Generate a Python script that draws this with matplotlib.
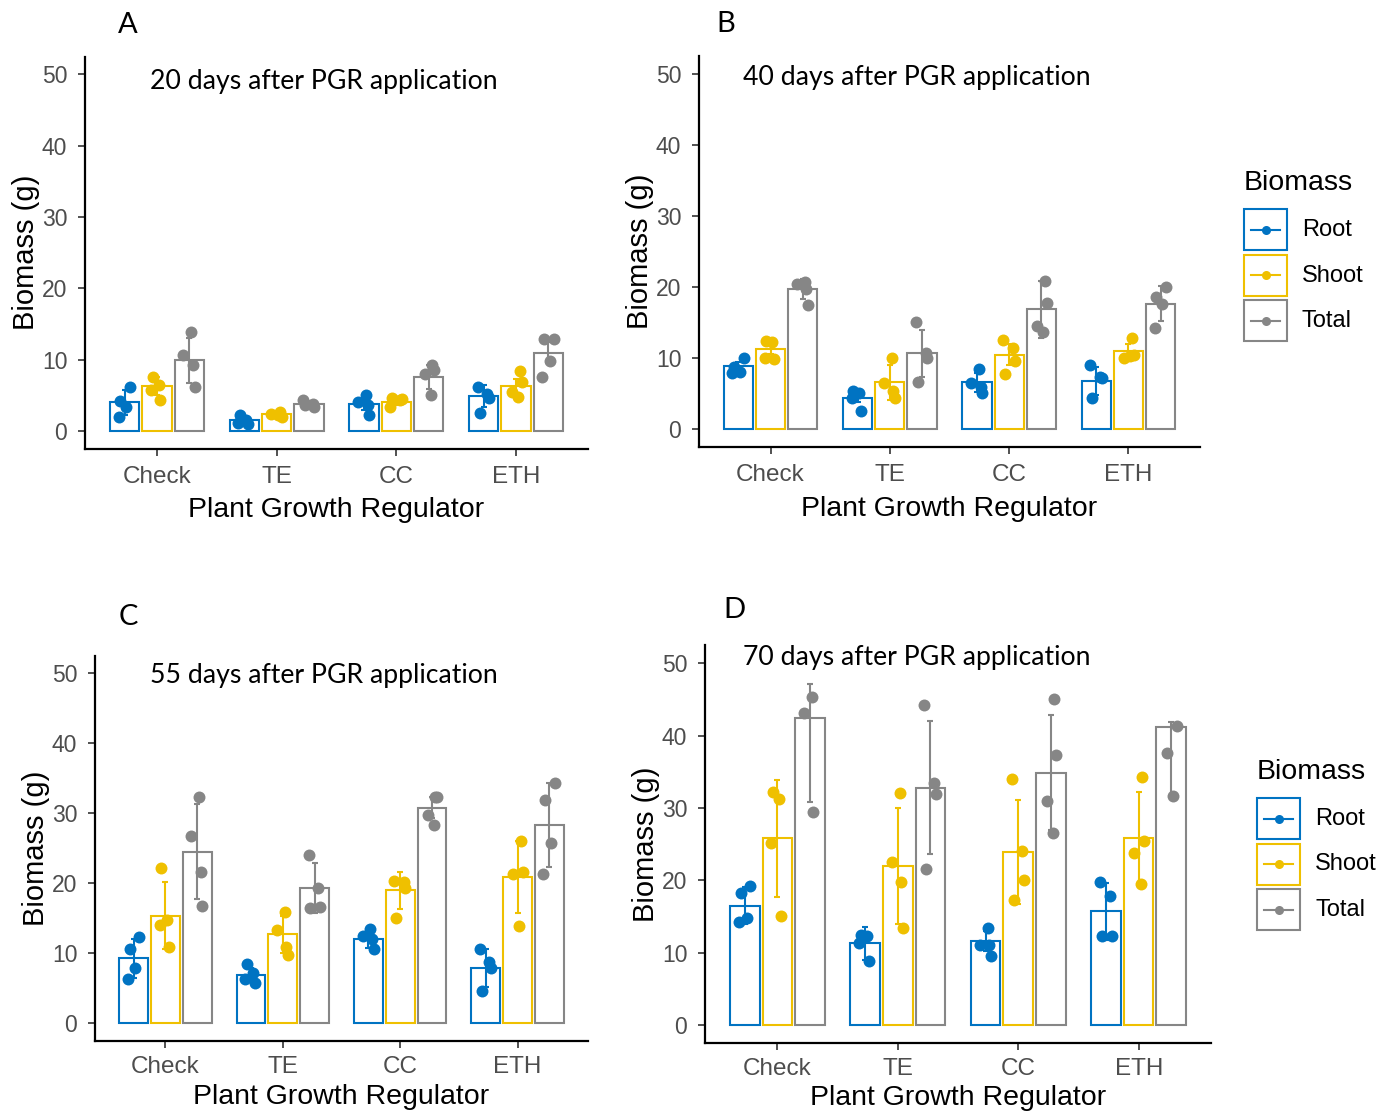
import numpy as np
import matplotlib
matplotlib.use("Agg")
import matplotlib.pyplot as plt
from matplotlib.patches import Rectangle
from matplotlib.lines import Line2D

# ------------------------------------------------------------
# data
# ------------------------------------------------------------
regulators = ['Check', 'TE', 'CC', 'ETH']
parts = ['Root', 'Shoot', 'Total']
colors = ['#0073C2', '#EFC000', '#868686']
panel_letters = ['A', 'B', 'C', 'D']
panel_titles = ['20 days after PGR application', '40 days after PGR application',
                '55 days after PGR application', '70 days after PGR application']
y_ticks = [0, 10, 20, 30, 40, 50]

# panel A - 20 days
a_mean = {'Root': [4.0, 1.6, 3.8, 4.9],
          'Shoot': [6.3, 2.4, 4.0, 6.3],
          'Total': [9.9, 3.8, 7.6, 11.0]}
a_err = {'Root': [1.8, 0.5, 0.8, 1.5],
         'Shoot': [1.2, 0.3, 0.4, 1.0],
         'Total': [3.2, 0.4, 1.7, 1.5]}
a_pts = {'Root': [[6.1, 4.2, 3.3, 2.0], [2.2, 1.6, 1.1, 1.0], [5.1, 4.0, 3.7, 2.3], [6.2, 5.2, 4.6, 2.5]],
         'Shoot': [[7.5, 6.5, 5.7, 4.3], [2.2, 2.4, 2.6, 1.9], [3.3, 4.3, 4.5, 4.6], [8.4, 6.9, 5.5, 4.7]],
         'Total': [[13.9, 10.6, 9.3, 6.2], [4.3, 3.8, 3.3, 3.6], [9.3, 8.5, 8.0, 5.1], [12.9, 12.9, 9.8, 7.5]]}

# panel B - 40 days
b_mean = {'Root': [8.9, 4.4, 6.6, 6.8],
          'Shoot': [11.3, 6.6, 10.5, 11.0],
          'Total': [19.8, 10.7, 16.9, 17.7]}
b_err = {'Root': [0.6, 0.6, 1.3, 2.0],
         'Shoot': [0.7, 2.5, 1.5, 1.0],
         'Total': [1.4, 3.3, 4.0, 2.5]}
b_pts = {'Root': [[10.1, 8.7, 8.1, 7.9], [5.4, 5.1, 4.4, 2.6], [8.5, 6.5, 6.0, 5.1], [9.1, 7.3, 7.2, 4.4]],
         'Shoot': [[12.4, 12.3, 10.1, 9.9], [10.1, 6.5, 5.4, 4.4], [12.6, 11.5, 9.6, 7.8], [12.9, 10.5, 10.1, 10.3]],
         'Total': [[20.8, 20.4, 19.7, 17.5], [15.1, 10.7, 10.0, 6.7], [20.9, 17.8, 14.5, 13.7], [20.0, 18.6, 17.6, 14.3]]}

# panel C - 55 days
c_mean = {'Root': [9.3, 6.9, 12.1, 7.9],
          'Shoot': [15.4, 12.7, 19.0, 20.9],
          'Total': [24.5, 19.3, 30.8, 28.3]}
c_err = {'Root': [2.8, 1.0, 1.3, 2.7],
         'Shoot': [4.8, 2.6, 2.6, 5.2],
         'Total': [6.8, 3.6, 1.5, 6.0]}
c_pts = {'Root': [[12.3, 10.6, 7.9, 6.3], [8.5, 7.2, 6.3, 5.7], [13.5, 12.5, 12.0, 10.6], [10.6, 8.7, 7.9, 4.6]],
         'Shoot': [[22.2, 14.7, 14.0, 10.9], [15.9, 13.4, 10.9, 9.8], [20.4, 20.2, 19.3, 15.0], [26.1, 21.6, 21.3, 13.9]],
         'Total': [[32.4, 26.7, 21.6, 16.8], [24.1, 19.3, 16.6, 16.5], [32.4, 32.4, 29.7, 28.3], [34.3, 31.9, 25.8, 21.4]]}

# panel D - 70 days (upper whiskers of two Total bars are cut in the original)
d_mean = {'Root': [16.5, 11.3, 11.6, 15.7],
          'Shoot': [25.8, 22.0, 23.9, 25.8],
          'Total': [42.4, 32.8, 34.9, 41.2]}
d_err = {'Root': [2.6, 2.3, 1.4, 3.9],
         'Shoot': [8.1, 8.0, 7.2, 6.4],
         'Total': [11.6, 9.2, 8.0, 9.7]}
d_err_hi = {'Root': [2.6, 2.3, 1.4, 3.9],
            'Shoot': [8.1, 8.0, 7.2, 6.4],
            'Total': [4.8, 9.2, 8.0, 0.7]}
d_pts = {'Root': [[19.2, 18.2, 14.8, 14.3], [12.4, 12.3, 11.3, 8.8], [13.4, 11.1, 11.1, 9.6], [19.8, 17.8, 12.3, 12.3]],
         'Shoot': [[32.2, 31.3, 25.2, 15.1], [32.1, 22.5, 19.8, 13.4], [34.0, 24.1, 20.0, 17.3], [34.3, 25.5, 23.8, 19.5]],
         'Total': [[45.3, 43.1, 29.4], [44.2, 33.5, 32.0, 21.6], [45.0, 37.3, 31.0, 26.6], [41.4, 37.6, 31.6]]}

panels = [(a_mean, a_err, a_err, a_pts),
          (b_mean, b_err, b_err, b_pts),
          (c_mean, c_err, c_err, c_pts),
          (d_mean, d_err, d_err_hi, d_pts)]

# ------------------------------------------------------------
# layout (pixels) and style
# ------------------------------------------------------------
W, H = 1383, 1115
# left, top, right, bottom of each axes box
boxes = [(85, 56.6, 588, 448.8),
         (699, 56.2, 1200, 447.1),
         (95, 655.8, 588, 1040.8),
         (705, 645.2, 1211, 1043.1)]
letter_pos = [(128, 25), (726, 24), (128, 617), (734, 610)]
title_pos = [(150, 81), (743, 78), (150, 675), (743, 657)]
legend_pos = [None, (1244, 183), None, (1257, 772)]
xlabel_pad = [7, 7, 4.5, 3.5]

TICK_GRAY = '#4D4D4D'
SANS = ['Liberation Sans', 'DejaVu Sans']
CALI = ['Lato', 'DejaVu Sans']
JITTER = [0.045, -0.035, 0.015, -0.05, 0.03]
dodge = 0.27
bar_w = 0.245

fig = plt.figure(figsize=(W / 100, H / 100), dpi=100)
fig.patch.set_facecolor('white')

for p, (means, err_lo, err_hi, pts) in enumerate(panels):
    l, t, r, b = boxes[p]
    ax = fig.add_axes([l / W, 1 - b / H, (r - l) / W, (b - t) / H])
    x = np.arange(1, len(regulators) + 1)

    for k, part in enumerate(parts):
        xs = x + (k - 1) * dodge
        ax.bar(xs, means[part], width=bar_w, facecolor='white', edgecolor=colors[k],
               linewidth=1.5, zorder=2)
        ax.errorbar(xs, means[part], yerr=[err_lo[part], err_hi[part]], fmt='none',
                    ecolor=colors[k], elinewidth=1.5, capsize=2, capthick=1.5, zorder=3)
        for g in range(len(regulators)):
            vals = pts[part][g]
            jit = [JITTER[(i + g + k) % len(JITTER)] for i in range(len(vals))]
            ax.plot(xs[g] + np.array(jit), vals, 'o', color=colors[k], markersize=8.6,
                    markeredgewidth=0, zorder=4)

    ax.set_xlim(0.4, 4.6)
    ax.set_ylim(-2.5, 52.5)
    ax.set_xticks(x)
    ax.set_xticklabels(regulators, fontsize=17.5, color=TICK_GRAY, family=SANS)
    ax.set_yticks(y_ticks)
    ax.set_yticklabels([str(v) for v in y_ticks], fontsize=16.5, color=TICK_GRAY, family=SANS)
    ax.tick_params(length=4.7, width=1.2, color='#333333')
    ax.tick_params(axis='x', pad=7.5 if p < 2 else 6)
    ax.tick_params(axis='y', pad=8)
    for s in ['top', 'right']:
        ax.spines[s].set_visible(False)
    for s in ['left', 'bottom']:
        ax.spines[s].set_linewidth(1.6)
        ax.spines[s].set_color('black')
    ax.set_xlabel('Plant Growth Regulator', fontsize=20.5, family=SANS, labelpad=xlabel_pad[p])
    ax.set_ylabel('Biomass (g)', fontsize=21, family=SANS, labelpad=1)

    lx, ly = letter_pos[p]
    fig.text(lx / W, 1 - ly / H, panel_letters[p], fontsize=21, family=CALI,
             ha='center', va='center')
    tx, ty = title_pos[p]
    fig.text(tx / W, 1 - ty / H, panel_titles[p], fontsize=19.2, family=CALI,
             ha='left', va='center')

# legends (drawn in figure pixel space)
over = fig.add_axes([0, 0, 1, 1], facecolor='none')
over.set_xlim(0, W)
over.set_ylim(H, 0)
over.axis('off')
for pos in legend_pos:
    if pos is None:
        continue
    lx, ly = pos
    over.text(lx, ly, 'Biomass', fontsize=20.5, family=SANS, ha='left', va='center')
    for k, part in enumerate(parts):
        by = ly + 26 + k * 45.5
        over.add_patch(Rectangle((lx, by), 43, 41, facecolor='white',
                                 edgecolor=colors[k], linewidth=1.5))
        over.add_line(Line2D([lx + 7, lx + 36], [by + 20.5, by + 20.5],
                             color=colors[k], linewidth=1.5))
        over.plot(lx + 21.5, by + 20.5, 'o', color=colors[k], markersize=6.5,
                  markeredgewidth=0)
        over.text(lx + 58, by + 21, part, fontsize=17, family=SANS,
                  ha='left', va='center')

fig.savefig('out.png', dpi=100)
